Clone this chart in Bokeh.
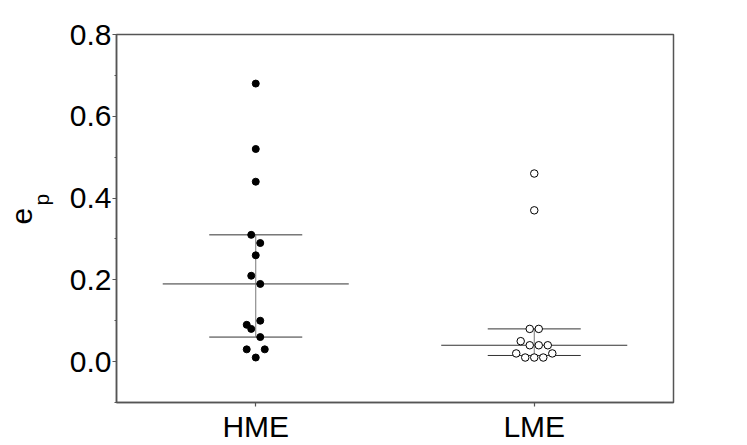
import numpy as np
from bokeh.plotting import figure
from bokeh.models import Title, FixedTicker
from bokeh.embed import file_html
from bokeh.resources import INLINE

# ---- data ----
categories = ["HME", "LME"]
hme_values = [0.68, 0.52, 0.44, 0.31, 0.29, 0.26, 0.21, 0.19, 0.10, 0.09, 0.08, 0.06, 0.03, 0.03, 0.01]
hme_slot = [0, 0, 0, -1, 1, 0, -1, 1, 1, -2, -1, 1, -2, 2, 0]
lme_values = [0.46, 0.37, 0.08, 0.08, 0.05, 0.04, 0.04, 0.04, 0.02, 0.02, 0.01, 0.01, 0.01]
lme_slot = [0, 0, -1, 1, -3, -1, 1, 3, -4, 4, -2, 0, 2]
y_ticks = [0.0, 0.2, 0.4, 0.6, 0.8]
y_tick_labels = ["0.0", "0.2", "0.4", "0.6", "0.8"]
y_label_main = "e"
y_label_sub = "p"

FONT = "Liberation Sans"
AX = "#555555"
slot_w = 0.0162  # swarm half-step in x data units

W, H = 747, 445
p = figure(width=W, height=H, x_range=(0.5, 2.5), y_range=(-0.1, 0.8),
           output_backend="svg", toolbar_location=None,
           min_border_left=116, min_border_right=74, min_border_top=34, min_border_bottom=42)
p.grid.visible = False
p.outline_line_color = AX
p.outline_line_width = 1.5
p.background_fill_color = "white"
p.border_fill_color = "white"

# axes
p.xaxis.ticker = FixedTicker(ticks=[1, 2])
p.xaxis.major_label_overrides = {i + 1: c for i, c in enumerate(categories)}
p.xaxis.minor_tick_line_color = None
p.yaxis.ticker = FixedTicker(ticks=y_ticks, minor_ticks=[-0.1, 0.1, 0.3, 0.5, 0.7])
p.yaxis.major_label_overrides = {t: l for t, l in zip(y_ticks, y_tick_labels)}
for ax in (p.xaxis, p.yaxis):
    ax.axis_line_color = AX
    ax.axis_line_width = 1.5
    ax.major_tick_line_color = AX
    ax.major_tick_line_width = 1.2
    ax.major_tick_in = 0
    ax.major_tick_out = 4
    ax.major_label_text_font = FONT
    ax.major_label_text_font_size = "30px"
    ax.major_label_text_color = "black"
p.yaxis.minor_tick_line_color = AX
p.yaxis.minor_tick_in = 0
p.yaxis.minor_tick_out = 2
p.yaxis.major_label_standoff = 1
p.xaxis.major_label_standoff = 3

# summary lines (median and quartiles)
groups = [(1, hme_values), (2, lme_values)]
for xc, vals in groups:
    q1, med, q3 = np.percentile(vals, [25, 50, 75], method="weibull")
    p.segment(x0=[xc - 0.334], x1=[xc + 0.334], y0=[med], y1=[med], line_color="#333333", line_width=1)
    p.segment(x0=[xc - 0.167, xc - 0.167], x1=[xc + 0.167, xc + 0.167], y0=[q1, q3], y1=[q1, q3],
              line_color="#333333", line_width=1)
    p.segment(x0=[xc], x1=[xc], y0=[q1], y1=[q3], line_color="#777777", line_width=1)

# points
hx = [1 + s * slot_w for s in hme_slot]
lx = [2 + s * slot_w for s in lme_slot]
p.scatter(hx, hme_values, size=7, marker="circle", fill_color="black", line_color="black")
p.scatter(lx, lme_values, size=7.5, marker="circle", fill_color="white", line_color="black", line_width=1)

# y axis label e_p: subscript closer to the frame, main letter further out
p.add_layout(Title(text=y_label_sub, text_font=FONT, text_font_size="21px", text_font_style="normal",
                   text_color="black", align="left", offset=197, standoff=27), "left")
p.add_layout(Title(text=y_label_main, text_font=FONT, text_font_size="30px", text_font_style="normal",
                   text_color="black", align="left", offset=178, standoff=-34), "left")

open("out.html", "w").write(file_html(p, INLINE))
